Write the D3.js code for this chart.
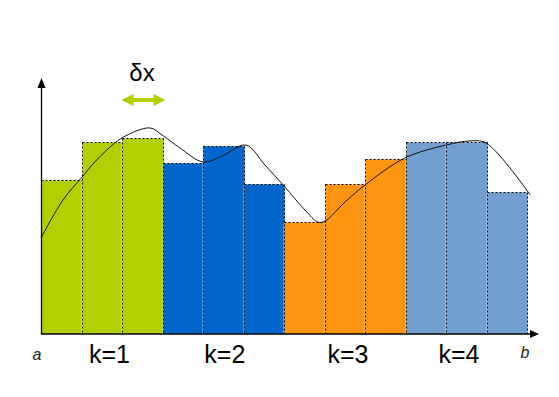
<!DOCTYPE html>
<html>
<head>
<meta charset="utf-8">
<script src="https://cdn.jsdelivr.net/npm/d3@7"></script>
<style>
  body { margin: 0; background: #fff; }
  svg { display: block; font-family: "Liberation Sans", Arial, sans-serif; }
</style>
</head>
<body>
<div id="chart"></div>
<script>
// Riemann sum: 12 strips between a and b, grouped in 4 blocks of 3
const stripHeights = [6.02, 7.49, 7.64, 6.68, 7.34, 5.85, 4.37, 5.85, 6.84, 7.49, 7.50, 5.55];
const stripGroup = [0, 0, 0, 1, 1, 1, 2, 2, 2, 3, 3, 3];
const groupLabels = ['k=1', 'k=2', 'k=3', 'k=4'];
const groupColors = ['#b2d000', '#0066cc', '#ff950e', '#729fcf'];
const labelPos = [1.69, 4.54, 7.58, 10.32];

// the function f(x) drawn on top
const curveX = [0, 0.54, 0.99, 1.33, 1.6, 2.0, 2.69, 2.99, 3.43, 4.0, 4.47, 5.06, 5.53, 6.0, 6.52, 6.84, 7.01, 7.51, 8.0, 8.99, 10.0, 10.59, 10.99, 12.08];
const curveY = [3.75, 5.23, 6.09, 6.72, 7.15, 7.66, 8.05, 7.77, 7.27, 6.72, 6.95, 7.38, 6.6, 5.78, 4.84, 4.37, 4.41, 5.16, 5.82, 6.88, 7.38, 7.54, 7.46, 5.43];

const width = 559;
const height = 397;

const x = d3.scaleLinear().domain([0, 12]).range([41, 527]);
const y = d3.scaleLinear().domain([0, 10]).range([334, 78]);

// snap to pixel centres so the dotted outlines stay crisp
const px = v => Math.round(v) + 0.5;

const svg = d3.select('#chart')
    .append('svg')
    .attr('width', width)
    .attr('height', height);

// strips
svg.selectAll('.strip')
    .data(stripHeights)
    .enter()
    .append('rect')
    .attr('class', 'strip')
    .attr('x', (d, i) => px(x(i)))
    .attr('y', d => px(y(d)))
    .attr('width', (d, i) => px(x(i + 1)) - px(x(i)))
    .attr('height', d => y(0) - px(y(d)))
    .attr('fill', (d, i) => groupColors[stripGroup[i]]);

// faint light seams between strips
svg.selectAll('.seam')
    .data(stripHeights.slice(1))
    .enter()
    .append('line')
    .attr('x1', (d, i) => px(x(i + 1)) - 1)
    .attr('x2', (d, i) => px(x(i + 1)) - 1)
    .attr('y1', (d, i) => px(y(Math.min(d, stripHeights[i]))) + 1)
    .attr('y2', y(0))
    .attr('stroke', 'rgba(255,255,255,0.3)')
    .attr('stroke-width', 1);

const dotted = sel => sel
    .attr('fill', 'none')
    .attr('stroke', '#000')
    .attr('stroke-width', 1)
    .attr('stroke-dasharray', '2,2');

// dotted tops
svg.selectAll('.top')
    .data(stripHeights)
    .enter()
    .append('line')
    .attr('class', 'top')
    .attr('x1', (d, i) => px(x(i)))
    .attr('x2', (d, i) => px(x(i + 1)))
    .attr('y1', d => px(y(d)))
    .attr('y2', d => px(y(d)))
    .call(dotted);

// dotted vertical edges, one per boundary
const edges = d3.range(stripHeights.length + 1).map(i =>
    Math.max(stripHeights[i - 1] || 0, stripHeights[i] || 0));

svg.selectAll('.edge')
    .data(edges)
    .enter()
    .append('line')
    .attr('class', 'edge')
    .attr('x1', (d, i) => px(x(i)))
    .attr('x2', (d, i) => px(x(i)))
    .attr('y1', d => px(y(d)))
    .attr('y2', y(0))
    .call(dotted);

// curve
const line = d3.line()
    .x(d => x(d[0]))
    .y(d => y(d[1]))
    .curve(d3.curveCatmullRom.alpha(0.5));

svg.append('path')
    .datum(curveX.map((v, i) => [v, curveY[i]]))
    .attr('d', line)
    .attr('fill', 'none')
    .attr('stroke', '#111')
    .attr('stroke-width', 1);

// axes
svg.append('line')
    .attr('x1', px(x(0))).attr('x2', px(x(0)))
    .attr('y1', y(0)).attr('y2', 86)
    .attr('stroke', '#000').attr('stroke-width', 1.3);
svg.append('path')
    .attr('d', `M${px(x(0))},78L${px(x(0)) + 4},88L${px(x(0)) - 4},88Z`)
    .attr('fill', '#000');

svg.append('line')
    .attr('x1', x(0)).attr('x2', 532)
    .attr('y1', y(0)).attr('y2', y(0))
    .attr('stroke', '#000').attr('stroke-width', 1.3);
svg.append('path')
    .attr('d', `M539,${y(0)}L530,${y(0) - 4}L530,${y(0) + 4}Z`)
    .attr('fill', '#000');

// group labels
svg.selectAll('.klabel')
    .data(groupLabels)
    .enter()
    .append('text')
    .attr('class', 'klabel')
    .attr('x', (d, i) => x(labelPos[i]))
    .attr('y', 363)
    .attr('text-anchor', 'middle')
    .attr('font-size', 25)
    .attr('fill', '#000')
    .text(d => d);

svg.append('text')
    .attr('x', 37).attr('y', 360)
    .attr('text-anchor', 'middle')
    .attr('font-size', 16)
    .attr('font-style', 'italic')
    .attr('fill', '#222')
    .text('a');
svg.append('text')
    .attr('x', 525).attr('y', 358)
    .attr('text-anchor', 'middle')
    .attr('font-size', 16)
    .attr('font-style', 'italic')
    .attr('fill', '#222')
    .text('b');

// delta x marker
svg.append('text')
    .attr('x', 142).attr('y', 81)
    .attr('text-anchor', 'middle')
    .attr('font-size', 24)
    .attr('fill', '#000')
    .text('δx');

const ax0 = 121.5, ax1 = 165.5, ay = 100;
svg.append('path')
    .attr('d', `M${ax0},${ay}L${ax0 + 12},${ay - 6}L${ax0 + 12},${ay - 2}L${ax1 - 12},${ay - 2}L${ax1 - 12},${ay - 6}L${ax1},${ay}L${ax1 - 12},${ay + 6}L${ax1 - 12},${ay + 2}L${ax0 + 12},${ay + 2}L${ax0 + 12},${ay + 6}Z`)
    .attr('fill', groupColors[0]);
</script>
</body>
</html>
